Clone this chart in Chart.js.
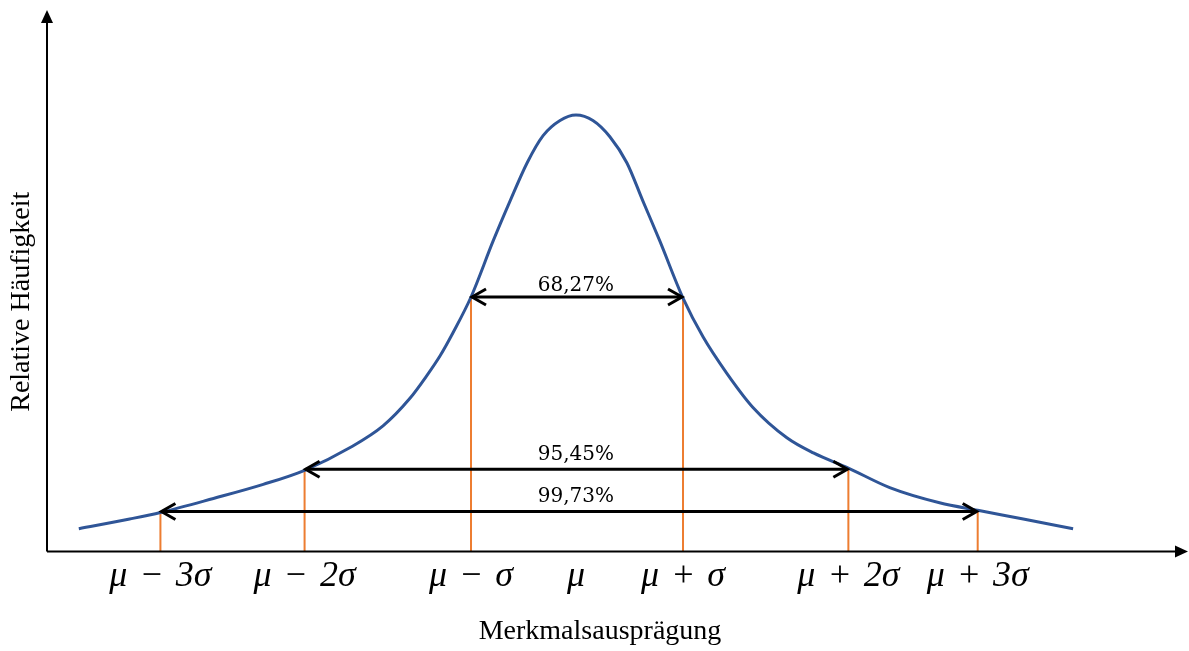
<!DOCTYPE html>
<html>
<head>
<meta charset="utf-8">
<script src="https://cdn.jsdelivr.net/npm/chart.js@4/dist/chart.umd.min.js"></script>
<style>
  html, body { margin: 0; padding: 0; background: #fff; }
  #wrap { width: 1189px; height: 651px; position: relative; }
</style>
</head>
<body>
<div id="wrap"><canvas id="chart"></canvas></div>
<script>
// curve (x in sigma-like units, y relative frequency)
const curveX = [-4.69, -4.21, -3.92, -3.42, -2.95, -2.56, -2.13, -1.82, -1.57, -1.41, -1.28, -1.16, -0.99,
  -0.78, -0.62, -0.46, -0.31, -0.15, 0, 0.16, 0.32, 0.48, 0.63, 0.79, 1.01, 1.2, 1.42, 1.67, 1.99, 2.24, 2.57,
  2.96, 3.43, 3.79, 4.22, 4.69];
const curveY = [0.021, 0.030, 0.036, 0.049, 0.062, 0.075, 0.096, 0.116, 0.141, 0.162, 0.181, 0.202, 0.235,
  0.287, 0.324, 0.359, 0.384, 0.398, 0.403, 0.398, 0.383, 0.359, 0.324, 0.287, 0.234, 0.198, 0.165, 0.133, 0.105,
  0.091, 0.077, 0.059, 0.045, 0.038, 0.030, 0.021];

// axis ticks
const tickX = [-3.92, -2.56, -0.99, 0, 1.01, 2.57, 3.79];
const tickLabels = ["μ − 3σ", "μ − 2σ", "μ − σ", "μ", "μ + σ", "μ + 2σ", "μ + 3σ"];

// orange markers at the sigma points
const markX = [-3.92, -2.56, -0.99, 1.01, 2.57, 3.79];
const markY = [0.036, 0.075, 0.235, 0.234, 0.077, 0.038];

// double arrows
const arrowLabels = ["68,27%", "95,45%", "99,73%"];
const arrowFrom = [-0.99, -2.56, -3.92];
const arrowTo = [1.01, 2.57, 3.79];
const arrowY = [0.235, 0.076, 0.037];

const serif = "'Liberation Serif', 'Times New Roman', serif";
const pad = n => "\u00a0".repeat(n);

function head(ctx, x, y, dir, len, spread) {
  ctx.beginPath();
  ctx.moveTo(x + dir * len, y - spread);
  ctx.lineTo(x, y);
  ctx.lineTo(x + dir * len, y + spread);
  ctx.stroke();
}

const extras = {
  id: "extras",
  afterDatasetsDraw(chart) {
    const { ctx, chartArea: a, scales: { x, y } } = chart;
    ctx.save();
    ctx.lineCap = "butt";
    ctx.lineJoin = "miter";

    // double arrows with labels
    ctx.strokeStyle = "#000";
    ctx.lineWidth = 3;
    for (let i = 0; i < arrowLabels.length; i++) {
      const x1 = x.getPixelForValue(arrowFrom[i]);
      const x2 = x.getPixelForValue(arrowTo[i]);
      const py = y.getPixelForValue(arrowY[i]);
      ctx.beginPath();
      ctx.moveTo(x1 + 1, py);
      ctx.lineTo(x2 - 1, py);
      ctx.stroke();
      head(ctx, x1 + 1, py, 1, 14, 8);
      head(ctx, x2 - 1, py, -1, 14, 8);
      ctx.fillStyle = "#000";
      ctx.font = "20px 'DejaVu Serif', serif";
      ctx.textAlign = "center";
      ctx.textBaseline = "alphabetic";
      ctx.fillText(arrowLabels[i], x.getPixelForValue(0), py - (i === 0 ? 6 : 9));
    }

    // axes with arrow heads
    ctx.lineWidth = 2;
    ctx.beginPath();
    ctx.moveTo(a.left, a.bottom);
    ctx.lineTo(a.left, a.top + 10);
    ctx.moveTo(a.left, a.bottom);
    ctx.lineTo(a.right - 10, a.bottom);
    ctx.stroke();
    ctx.beginPath();
    ctx.moveTo(a.left, a.top);
    ctx.lineTo(a.left - 6, a.top + 13);
    ctx.lineTo(a.left + 6, a.top + 13);
    ctx.closePath();
    ctx.fill();
    ctx.beginPath();
    ctx.moveTo(a.right, a.bottom);
    ctx.lineTo(a.right - 13, a.bottom - 6);
    ctx.lineTo(a.right - 13, a.bottom + 6);
    ctx.closePath();
    ctx.fill();
    ctx.restore();
  }
};

const datasets = [{
  data: curveX.map((v, i) => ({ x: v, y: curveY[i] })),
  borderColor: "#2F5597",
  borderWidth: 3,
  pointRadius: 0,
  cubicInterpolationMode: "monotone",
  order: 0
}];
markX.forEach((v, i) => {
  datasets.push({
    data: [{ x: v, y: 0 }, { x: v, y: markY[i] }],
    borderColor: "#ED7D31",
    borderWidth: 2,
    pointRadius: 0,
    order: 1
  });
});

new Chart(document.getElementById("chart"), {
  type: "line",
  data: { datasets },
  options: {
    responsive: true,
    maintainAspectRatio: false,
    animation: false,
    layout: { padding: { top: 10, right: 1, left: 0, bottom: 0 } },
    plugins: { legend: { display: false }, tooltip: { enabled: false } },
    scales: {
      x: {
        type: "linear",
        min: -4.99,
        max: 5.774,
        grid: { display: false, drawTicks: false },
        border: { display: false },
        afterBuildTicks: s => { s.ticks = tickX.map(v => ({ value: v })); },
        ticks: {
          autoSkip: false,
          maxRotation: 0,
          padding: 3,
          color: "#000",
          font: { family: serif, size: 36, style: "italic" },
          callback: v => tickLabels[tickX.indexOf(v)].replace(/ /g, "\u2004")
        },
        title: {
          display: true,
          text: "Merkmalsausprägung" + pad(5),
          color: "#000",
          font: { family: serif, size: 28 },
          padding: { top: 13.7, bottom: 3 }
        }
      },
      y: {
        min: 0,
        max: 0.5,
        grid: { display: false, drawTicks: false },
        border: { display: false },
        ticks: { display: false },
        title: {
          display: true,
          text: "Relative Häufigkeit" + pad(6),
          color: "#000",
          font: { family: serif, size: 28 },
          padding: { top: 5.2, bottom: 8.2 }
        }
      }
    }
  },
  plugins: [extras]
});
</script>
</body>
</html>
